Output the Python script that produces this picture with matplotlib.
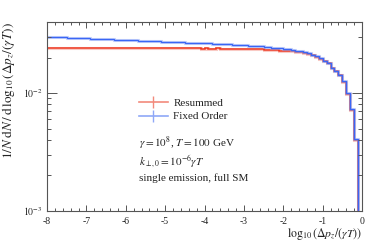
import numpy as np
import matplotlib
matplotlib.use("Agg")
import matplotlib.pyplot as plt
from matplotlib.lines import Line2D
from matplotlib.ticker import LogLocator, MultipleLocator, FixedLocator, FixedFormatter, NullFormatter

plt.rcParams['font.family'] = ['Liberation Serif', 'DejaVu Serif']
plt.rcParams['mathtext.fontset'] = 'stix'
plt.rcParams['axes.unicode_minus'] = False

# bin edges in log10(dp_z/(gamma T))
bin_edges = np.round(np.linspace(-8.0, 0.0, 81), 1)

fixed_order = [
    0.0299, 0.0299, 0.0298, 0.0297, 0.0296, 0.0295, 0.0294, 0.0293, 0.0292, 0.0291,
    0.0290, 0.0289, 0.0288, 0.0287, 0.0287, 0.0286, 0.0285, 0.0284, 0.0283, 0.0282,
    0.0281, 0.0280, 0.0279, 0.0278, 0.0277, 0.0277, 0.0276, 0.0275, 0.0274, 0.0273,
    0.0272, 0.0271, 0.0271, 0.0270, 0.0269, 0.0268, 0.0267, 0.0266, 0.0266, 0.0265,
    0.0264, 0.0263, 0.0262, 0.0261, 0.0260, 0.0259, 0.0258, 0.0257, 0.0256, 0.0254,
    0.0253, 0.0252, 0.0251, 0.0249, 0.0248, 0.0247, 0.0245, 0.0243, 0.0242, 0.0240,
    0.0237, 0.0235, 0.0232, 0.0229, 0.0226, 0.0222, 0.0217, 0.0212, 0.0205, 0.0197,
    0.0188, 0.0180, 0.0164, 0.0155, 0.0142, 0.0126, 0.0100, 0.0073, 0.0041, 0.0,
]

resummed = [
    0.0242, 0.0243, 0.0242, 0.0242, 0.0241, 0.0242, 0.0242, 0.0241, 0.0242, 0.0241,
    0.0241, 0.0242, 0.0241, 0.0241, 0.0242, 0.0241, 0.0241, 0.0240, 0.0241, 0.0241,
    0.0241, 0.0240, 0.0241, 0.0240, 0.0240, 0.0241, 0.0240, 0.0240, 0.0239, 0.0240,
    0.0240, 0.0240, 0.0239, 0.0240, 0.0239, 0.0239, 0.0240, 0.0239, 0.0239, 0.0238,
    0.0239, 0.0238, 0.0238, 0.0239, 0.0238, 0.0237, 0.0238, 0.0237, 0.0236, 0.0237,
    0.0236, 0.0236, 0.0235, 0.0234, 0.0235, 0.0233, 0.0232, 0.0232, 0.0230, 0.0229,
    0.0228, 0.0227, 0.0225, 0.0224, 0.0221, 0.0218, 0.0214, 0.0209, 0.0203, 0.0196,
    0.0187, 0.0178, 0.0163, 0.0154, 0.0141, 0.0125, 0.0099, 0.0072, 0.0040, 0.0,
]

x_ticks = [-8, -7, -6, -5, -4, -3, -2, -1, 0]
x_ticklabels = ['-8', '-7', '-6', '-5', '-4', '-3', '-2', '-1', '0']
y_ticks = [1e-3, 1e-2]
y_ticklabels = [r'$10^{-3}$', r'$10^{-2}$']

red = '#EE3B24'
red_light = '#F28A7C'
blue = '#3A66F5'
blue_light = '#8FA8F7'
axis_col = '#555555'

fig = plt.figure(figsize=(3.74, 2.43), dpi=100)
ax = fig.add_axes([47/374, 1-211/243, 315/374, 189/243])
ax.set_yscale('log', nonpositive='clip')

ax.stairs(resummed, bin_edges, color=red_light, lw=2.2, alpha=0.45, baseline=None)
ax.stairs(resummed, bin_edges, color=red, lw=1.1, baseline=None)
ax.stairs(fixed_order, bin_edges, color=blue_light, lw=2.2, alpha=0.45, baseline=None)
ax.stairs(fixed_order, bin_edges, color=blue, lw=1.0, baseline=None)

ax.set_xlim(-8, 0)
ax.set_ylim(1e-3, 0.04)

for s in ax.spines.values():
    s.set_color(axis_col)
    s.set_linewidth(0.8)

ax.xaxis.set_major_locator(FixedLocator(x_ticks))
ax.xaxis.set_major_formatter(FixedFormatter(x_ticklabels))
ax.xaxis.set_minor_locator(MultipleLocator(0.2))
ax.yaxis.set_major_locator(FixedLocator(y_ticks))
ax.yaxis.set_major_formatter(FixedFormatter(y_ticklabels))
ax.yaxis.set_minor_locator(LogLocator(base=10, subs=np.arange(2, 10), numticks=20))
ax.yaxis.set_minor_formatter(NullFormatter())

ax.tick_params(axis='both', which='both', direction='in', top=True, right=True,
               color=axis_col, width=0.7, labelsize=7, labelcolor='#222222')
ax.tick_params(axis='x', which='major', length=4.5, pad=4)
ax.tick_params(axis='x', which='minor', length=2.3)
ax.tick_params(axis='y', which='major', length=7, pad=3)
ax.tick_params(axis='y', which='minor', length=3.2)

ax.set_ylabel(r'$1/N\;\mathrm{d}N\,/\,\mathrm{d}\,\log_{10}(\Delta p_z/(\gamma T))$',
              fontsize=9.5, loc='top', color='#222222')
ax.yaxis.set_label_coords(-0.096, 1.0)
ax.set_xlabel(r'$\log_{10}(\Delta p_z/(\gamma T))$', fontsize=8.5, loc='right', color='#222222')
ax.xaxis.set_label_coords(1.0, -0.082)

handles = [Line2D([], [], color=red_light, lw=1.2, marker='|', markersize=9, markeredgewidth=1.0),
           Line2D([], [], color=blue_light, lw=1.2, marker='|', markersize=9, markeredgewidth=1.0)]
ax.legend(handles, ['Resummed', 'Fixed Order'], loc='upper left',
          bbox_to_anchor=((139-47)/315, (211-98)/189), frameon=False, fontsize=8,
          handlelength=2.6, handletextpad=0.5, borderpad=0, borderaxespad=0,
          labelspacing=0.35, labelcolor='#222222')

tx = (139-47)/315
ax.text(tx, (211-147)/189, r'$\gamma = 10^8$, $T = 100$ GeV', transform=ax.transAxes,
        fontsize=8, va='baseline', ha='left', color='#222222')
ax.text(tx, (211-166)/189, r'$k_{\perp,0} = 10^{-6}\gamma T$', transform=ax.transAxes,
        fontsize=8, va='baseline', ha='left', color='#222222')
ax.text(tx, (211-181)/189, 'single emission, full SM', transform=ax.transAxes,
        fontsize=8, va='baseline', ha='left', color='#222222')

fig.savefig('out.png', dpi=100)
